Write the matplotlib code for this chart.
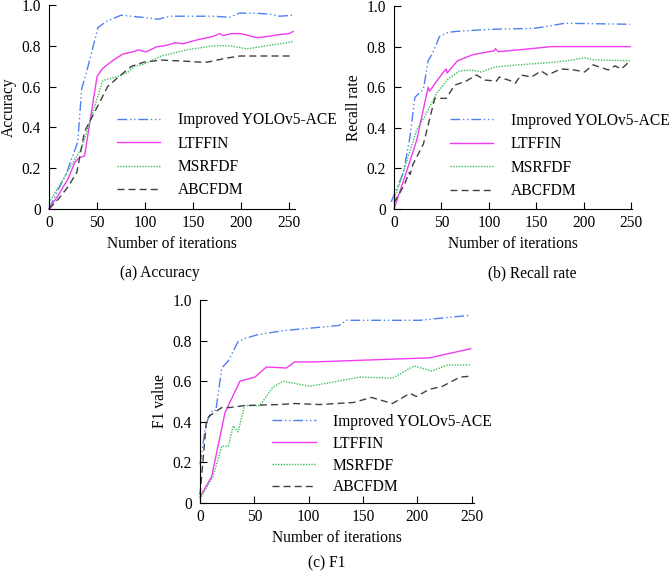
import matplotlib
matplotlib.use("Agg")
from matplotlib import pyplot as plt

plt.rcParams['font.family'] = ['Liberation Serif', 'DejaVu Serif']
FS = 11.2

NAMES = ['Improved YOLOv5-ACE', 'LTFFIN', 'MSRFDF', 'ABCFDM']

# (a) Accuracy
acc_yolo_x = [0, 10, 17, 30, 34, 39, 51, 60, 75, 96, 113, 126, 150, 170, 188, 198, 215, 230, 240, 255]
acc_yolo = [0.0, 0.10, 0.16, 0.33, 0.59, 0.67, 0.89, 0.92, 0.95, 0.94, 0.93, 0.945, 0.945, 0.945, 0.94, 0.96, 0.96, 0.955, 0.945, 0.95]
acc_ltf_x = [0, 10, 20, 27, 31, 37, 50, 56, 67, 77, 87, 93, 101, 112, 120, 132, 139, 155, 170, 178, 181, 190, 199, 208, 216, 226, 240, 250, 254]
acc_ltf = [0, 0.07, 0.15, 0.23, 0.25, 0.26, 0.65, 0.69, 0.73, 0.76, 0.77, 0.78, 0.77, 0.795, 0.80, 0.815, 0.81, 0.83, 0.845, 0.86, 0.85, 0.86, 0.86, 0.85, 0.84, 0.845, 0.855, 0.86, 0.87]
acc_msr_x = [0, 34, 56, 72, 82, 89, 99, 117, 143, 171, 188, 206, 226, 254]
acc_msr = [0.03, 0.30, 0.63, 0.65, 0.67, 0.70, 0.71, 0.75, 0.78, 0.80, 0.80, 0.785, 0.80, 0.82]
acc_abc_x = [0, 10, 20, 29, 37, 48, 61, 73, 86, 99, 117, 140, 157, 165, 185, 199, 230, 251]
acc_abc = [0, 0.05, 0.11, 0.18, 0.38, 0.48, 0.60, 0.65, 0.70, 0.72, 0.73, 0.725, 0.72, 0.72, 0.74, 0.75, 0.75, 0.75]

# (b) Recall rate
rec_yolo_x = [-3, 10, 17, 22, 31, 36, 41, 48, 57, 66, 101, 148, 162, 180, 249]
rec_yolo = [0.035, 0.18, 0.36, 0.55, 0.59, 0.73, 0.77, 0.85, 0.87, 0.875, 0.885, 0.89, 0.90, 0.915, 0.91]
rec_ltf_x = [0, 11.5, 24, 36, 37.5, 45, 53, 55, 56, 67, 83, 106, 107, 110, 134, 166, 249]
rec_ltf = [0, 0.16, 0.34, 0.60, 0.58, 0.63, 0.68, 0.69, 0.67, 0.73, 0.76, 0.78, 0.79, 0.775, 0.785, 0.80, 0.80]
rec_msr_x = [0, 24, 34, 45, 57, 69, 81, 92, 107, 131, 161, 183, 201, 210, 249]
rec_msr = [0.04, 0.39, 0.47, 0.57, 0.64, 0.68, 0.685, 0.675, 0.70, 0.71, 0.72, 0.73, 0.745, 0.735, 0.73]
rec_abc_x = [0, 11, 16, 17, 20, 31, 43, 55, 64, 76, 87, 96, 108, 111, 124, 128, 134, 145, 155, 162, 176, 190, 201, 210, 226, 233, 240, 249]
rec_abc = [0.03, 0.12, 0.18, 0.17, 0.22, 0.32, 0.545, 0.545, 0.61, 0.63, 0.66, 0.635, 0.63, 0.65, 0.63, 0.62, 0.66, 0.65, 0.68, 0.66, 0.69, 0.685, 0.675, 0.71, 0.685, 0.705, 0.69, 0.73]

# (c) F1
f1_yolo_x = [0, 4.6, 7.6, 12, 14.6, 20, 26, 35, 41, 53.5, 66, 78, 99, 128, 134.6, 202, 211, 249]
f1_yolo = [0.19, 0.36, 0.42, 0.46, 0.455, 0.665, 0.70, 0.795, 0.81, 0.83, 0.84, 0.85, 0.86, 0.875, 0.90, 0.90, 0.905, 0.925]
f1_ltf_x = [0, 10.7, 23, 36.7, 50.5, 61, 79.5, 87, 105, 211, 249]
f1_ltf = [0.03, 0.13, 0.445, 0.60, 0.62, 0.67, 0.665, 0.695, 0.695, 0.715, 0.76]
f1_msr_x = [0, 12, 20, 26, 30.6, 35, 41, 55, 67, 76.5, 101, 147, 177, 197, 213, 228, 249]
f1_msr = [0.02, 0.13, 0.28, 0.28, 0.38, 0.35, 0.48, 0.48, 0.57, 0.60, 0.575, 0.62, 0.615, 0.675, 0.65, 0.68, 0.68]
f1_abc_x = [0, 6, 9, 20, 27, 41, 72, 87, 110, 141, 157.6, 177, 193, 199, 211, 223, 239, 249]
f1_abc = [0.04, 0.41, 0.43, 0.47, 0.47, 0.48, 0.485, 0.49, 0.485, 0.495, 0.52, 0.49, 0.54, 0.525, 0.56, 0.575, 0.62, 0.625]

STYLES = [
    dict(color='#4f81ee', linestyle=(0, (7, 2, 1, 2, 1, 2))),
    dict(color='#f03cf0', linestyle='-'),
    dict(color='#3cbf5a', linestyle=(0, (1, 1))),
    dict(color='#404040', linestyle=(0, (5, 3))),
]


def draw_panel(ax, series, ylabel, xmax, leg_anchor, spacing=0.48):
    for (xs, ys), name, st in zip(series, NAMES, STYLES):
        ax.plot(xs, ys, lw=1.0, label=name, clip_on=False, **st)
    ax.set_xlim(0, xmax)
    ax.set_ylim(0, 1.0)
    ax.set_xticks([0, 50, 100, 150, 200, 250])
    ax.set_yticks([0, 0.2, 0.4, 0.6, 0.8, 1.0])
    ax.set_yticklabels(['0', '0.2', '0.4', '0.6', '0.8', '1.0'])
    ax.tick_params(direction='in', length=5, width=0.8, labelsize=FS)
    ax.tick_params(axis='y', pad=6)
    ax.tick_params(axis='x', pad=4)
    ax.spines['top'].set_visible(False)
    ax.spines['right'].set_visible(False)
    ax.set_xlabel('Number of iterations', fontsize=FS, labelpad=4)
    ax.set_ylabel(ylabel, fontsize=FS, labelpad=3)
    ax.legend(loc='upper left', bbox_to_anchor=leg_anchor, frameon=False,
              fontsize=FS, handlelength=2.8, handletextpad=1.1,
              labelspacing=spacing, borderpad=0, borderaxespad=0)


fig = plt.figure(figsize=(6.71, 5.74), dpi=100)

ax1 = fig.add_axes([49 / 671, 1 - 209 / 574, 246 / 671, 204 / 574])
draw_panel(ax1, [(acc_yolo_x, acc_yolo), (acc_ltf_x, acc_ltf),
                 (acc_msr_x, acc_msr), (acc_abc_x, acc_abc)],
           'Accuracy', 256, (0.276, 0.475))

ax2 = fig.add_axes([394 / 671, 1 - 209 / 574, 238 / 671, 203 / 574])
draw_panel(ax2, [(rec_yolo_x, rec_yolo), (rec_ltf_x, rec_ltf),
                 (rec_msr_x, rec_msr), (rec_abc_x, rec_abc)],
           'Recall rate', 251, (0.235, 0.475))

ax3 = fig.add_axes([200 / 671, 1 - 503 / 574, 274 / 671, 203 / 574])
draw_panel(ax3, [(f1_yolo_x, f1_yolo), (f1_ltf_x, f1_ltf),
                 (f1_msr_x, f1_msr), (f1_abc_x, f1_abc)],
           'F1 value', 252, (0.263, 0.44), spacing=0.38)

fig.text(160 / 671, 1 - 273 / 574, '(a) Accuracy', ha='center', va='center', fontsize=FS)
fig.text(532 / 671, 1 - 273 / 574, '(b) Recall rate', ha='center', va='center', fontsize=FS)
fig.text(327 / 671, 1 - 563 / 574, '(c) F1', ha='center', va='center', fontsize=FS)

fig.savefig('out.png', dpi=100)
